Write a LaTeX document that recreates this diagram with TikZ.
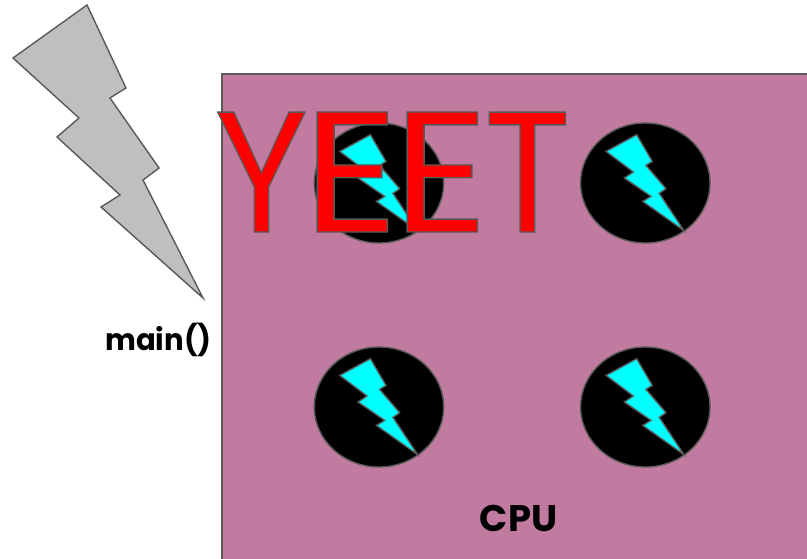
\documentclass[tikz,border=0pt]{standalone}
\usepackage{fontspec}
\setmainfont{Poppins}
\newfontfamily\labelfont{Poppins}
\definecolor{cpufill}{HTML}{C27BA0}
\definecolor{edge}{HTML}{595959}
\definecolor{boltgray}{HTML}{BFBFBF}
\definecolor{sparkcyan}{HTML}{00FFFF}
\definecolor{yeetred}{HTML}{FF0000}
\newcommand\yeetletter[3]{\makebox[0pt][l]{\hspace{#1pt}\scalebox{#2}[1]{\special{pdf:code q 2 Tr 1.3 w 0.349 0.349 0.349 RG}#3\special{pdf:code Q}}}}
\tikzset{
  shapeline/.style={draw=edge,line width=1.4pt,line join=miter},
  core/.style={shapeline,fill=black},
  spark/.style={shapeline,fill=sparkcyan},
  label/.style={inner sep=0pt,font=\labelfont\bfseries\fontsize{30}{34}\selectfont,text=black},
  biglabel/.style={inner sep=0pt,font=\labelfont\bfseries\fontsize{37}{39}\selectfont,text=black},
  yeet/.style={inner sep=0pt,anchor=base west,font=\fontsize{172}{172}\selectfont,text=yeetred},
  pics/corebolt/.style={code={
    \draw[core] (0,0) ellipse [x radius=64.7,y radius=60];
    \draw[spark] (-8.6,-48.3)--(7,-21.6)--(0.7,-17.6)--(20.7,5.7)--(14,10.4)--(38.7,47.7)--(-2.6,18.4)--(5.7,13.4)--(-21,-5)--(-12,-11)--(-39.3,-31.6)--cycle;
  }}
}
\begin{document}
\begin{tikzpicture}[x=1pt,y=-1pt]
\useasboundingbox (0,0) rectangle (807,558);
\begin{scope}
\clip (0,0) rectangle (807,558);
\draw[shapeline,fill=cpufill] (222,74) rectangle (830,580);
\end{scope}
\draw[shapeline,fill=boltgray] (87,5)--(126,88)--(110,98)--(159,168)--(143,180)--(203,298)--(101,207)--(120,195)--(57,137)--(79,118)--(13,58)--cycle;
\pic at (379,183) {corebolt};
\pic at (645.3,183) {corebolt};
\pic at (379,407) {corebolt};
\pic at (645.3,407) {corebolt};
\node[label] (mainlabel) at (158.5,340) {\scalebox{.97}[1]{main()}};
\node[biglabel] (cpulabel) at (518.5,518.5) {CPU};
\node[yeet] (yeettext) at (217,232) {\yeetletter{-3}{.93}{Y}\yeetletter{85}{1.09}{E}\yeetletter{175}{1.09}{E}\yeetletter{266}{.94}{T}};
\end{tikzpicture}
\end{document}
